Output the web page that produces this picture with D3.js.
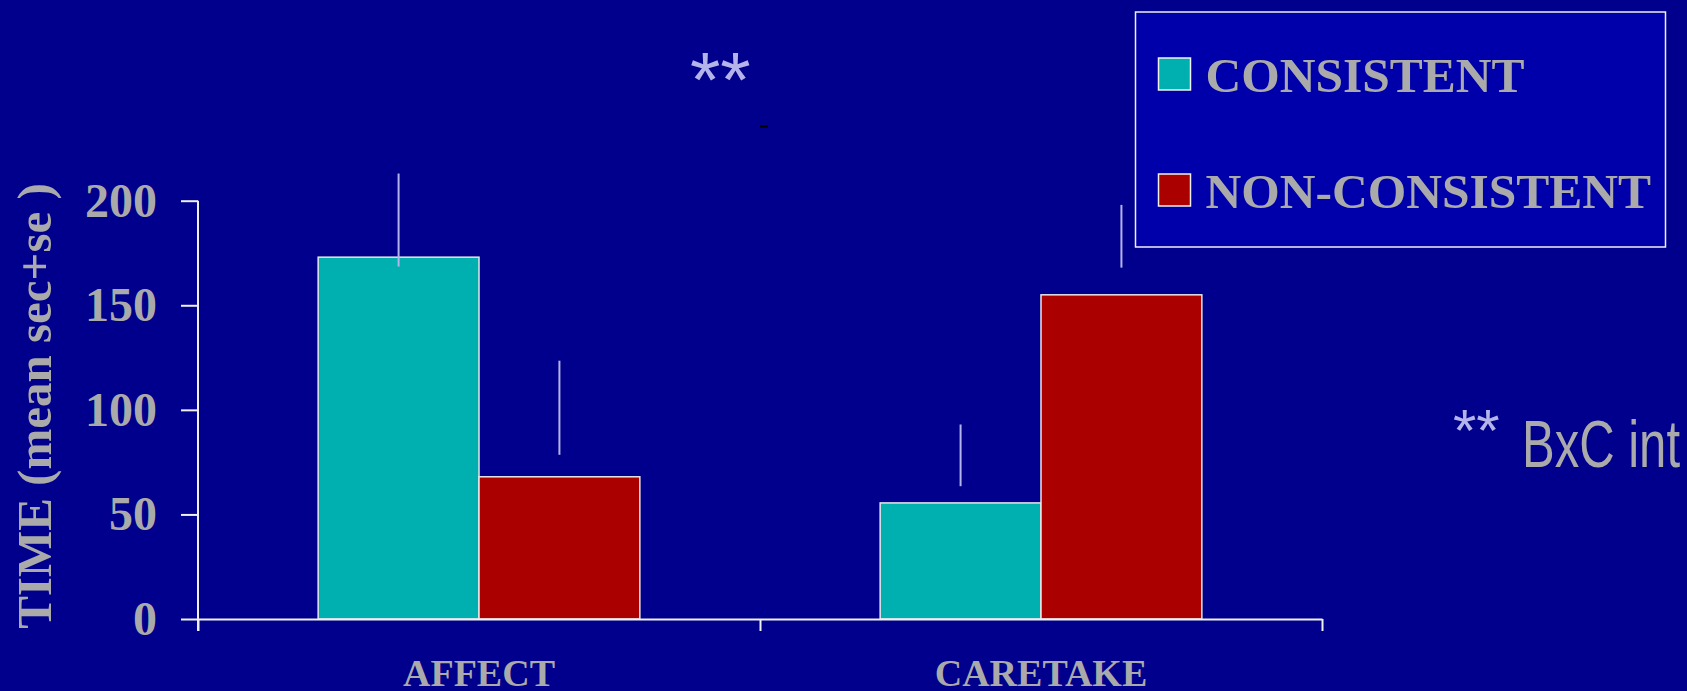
<!DOCTYPE html>
<html><head><meta charset="utf-8">
<script src="https://cdn.jsdelivr.net/npm/d3@7"></script>
<style>html,body{margin:0;padding:0;background:#00008c;overflow:hidden}</style>
</head><body>
<svg id="chart" width="1687" height="691"></svg>
<script>
// ---- data ----
const categories = ["AFFECT", "CARETAKE"];
const seriesNames = ["CONSISTENT", "NON-CONSISTENT"];
const consistentValues = [173, 55.5];
const nonConsistentValues = [68, 155];
const consistentErrLow = [168.5, 63.5];
const consistentErrHigh = [213, 93];
const nonConsistentErrLow = [78.5, 168];
const nonConsistentErrHigh = [123.5, 198];
const yTicks = [0, 50, 100, 150, 200];
const yTitle = "TIME (mean sec+se )";
const topStars = "**";
const noteStars = "**";
const noteText = "BxC int";

// ---- styles ----
const BG = "#00008c", LEGEND_BG = "#0000aa", TEXT = "#aaaaaa", LAV = "#b4b4ea";
const colors = {"CONSISTENT": "#00b0b0", "NON-CONSISTENT": "#aa0000"};
const SERIF = "'Liberation Serif','Times New Roman',serif";
const SANS = "'Liberation Sans Narrow','Liberation Sans',Arial,sans-serif";

const svg = d3.select("#chart");
svg.append("rect").attr("width", 1687).attr("height", 691).attr("fill", BG);

const plotL = 198, plotR = 1322, plotB = 619, plotT = 200.7;
const y = d3.scaleLinear().domain([0, 200]).range([plotB, plotT]);
const x0 = d3.scaleBand().domain(categories).range([plotL, plotR])
  .paddingInner(0.4276).paddingOuter(0.2138);
const x1 = d3.scaleBand().domain(seriesNames).range([0, x0.bandwidth()]);

const rows = [];
categories.forEach((c, i) => {
  rows.push({cat: c, s: "CONSISTENT", v: consistentValues[i], lo: consistentErrLow[i], hi: consistentErrHigh[i]});
  rows.push({cat: c, s: "NON-CONSISTENT", v: nonConsistentValues[i], lo: nonConsistentErrLow[i], hi: nonConsistentErrHigh[i]});
});

// bars
svg.append("g").selectAll("rect").data(rows).join("rect")
  .attr("x", d => x0(d.cat) + x1(d.s))
  .attr("y", d => y(d.v))
  .attr("width", x1.bandwidth())
  .attr("height", d => y(0) - y(d.v))
  .attr("fill", d => colors[d.s])
  .attr("stroke", "#e6e6e6").attr("stroke-width", 1.5);

// error bars
svg.append("g").selectAll("line").data(rows).join("line")
  .attr("x1", d => x0(d.cat) + x1(d.s) + x1.bandwidth() / 2)
  .attr("x2", d => x0(d.cat) + x1(d.s) + x1.bandwidth() / 2)
  .attr("y1", d => y(d.lo)).attr("y2", d => y(d.hi))
  .attr("stroke", LAV).attr("stroke-width", 2);

// y axis
const yAxis = svg.append("g").attr("transform", `translate(${plotL},0)`)
  .call(d3.axisLeft(y).tickValues(yTicks).tickSize(17).tickSizeOuter(0).tickPadding(24));
yAxis.select(".domain").remove();
yAxis.selectAll(".tick line").attr("stroke", "#f0f0f0").attr("stroke-width", 2);
yAxis.selectAll(".tick text").attr("fill", TEXT).attr("font-family", SERIF)
  .attr("font-weight", "bold").attr("font-size", 48);
yAxis.append("line").attr("x1", 0).attr("x2", 0).attr("y1", y(200)).attr("y2", y(0) + 12)
  .attr("stroke", "#f0f0f0").attr("stroke-width", 2);

// x axis (boundaries)
const xb = d3.scaleLinear().domain([0, categories.length]).range([plotL, plotR]);
const xAxis = svg.append("g").attr("transform", `translate(0,${plotB})`)
  .call(d3.axisBottom(xb).tickValues(d3.range(categories.length + 1)).tickSize(12).tickSizeOuter(0).tickFormat(""));
xAxis.select(".domain").attr("stroke", "#f0f0f0").attr("stroke-width", 2);
xAxis.selectAll(".tick line").attr("stroke", "#f0f0f0").attr("stroke-width", 2);

// category labels
svg.append("g").selectAll("text").data(categories).join("text")
  .attr("x", d => x0(d) + x0.bandwidth() / 2).attr("y", 686)
  .attr("text-anchor", "middle").attr("fill", TEXT).attr("font-family", SERIF)
  .attr("font-weight", "bold").attr("font-size", 38).text(d => d);

// y title
svg.append("text").attr("transform", "translate(51,406) rotate(-90)")
  .attr("text-anchor", "middle").attr("fill", TEXT).attr("font-family", SERIF)
  .attr("font-weight", "bold").attr("font-size", 49).text(yTitle);

// legend
const lg = svg.append("g");
lg.append("rect").attr("x", 1135.5).attr("y", 12).attr("width", 530).attr("height", 235)
  .attr("fill", LEGEND_BG).attr("stroke", "#f0f0f0").attr("stroke-width", 1.5);
const ly = d3.scalePoint().domain(seriesNames).range([58, 174]);
const li = lg.selectAll("g.item").data(seriesNames).join("g").attr("class", "item")
  .attr("transform", d => `translate(1158.5,${ly(d)})`);
li.append("rect").attr("width", 32).attr("height", 32).attr("fill", d => colors[d])
  .attr("stroke", "#f0f0f0").attr("stroke-width", 1.5);
li.append("text").attr("x", 47).attr("y", 33.5).attr("fill", TEXT).attr("font-family", SERIF)
  .attr("font-weight", "bold").attr("font-size", 49.5).text(d => d);

// annotations
svg.append("text").attr("x", 690).attr("y", 107).attr("fill", LAV)
  .attr("font-family", "'Liberation Sans',Arial,sans-serif").attr("font-size", 78).text(topStars);
svg.append("rect").attr("x", 760).attr("y", 125).attr("width", 8).attr("height", 2.5).attr("fill", "#000");
svg.append("text").attr("x", 1453).attr("y", 451).attr("fill", LAV)
  .attr("font-family", "'Liberation Sans',Arial,sans-serif").attr("font-size", 60).text(noteStars);
svg.append("text").attr("x", 1522).attr("y", 467).attr("fill", TEXT)
  .attr("font-family", SANS).attr("font-size", 66)
  .attr("textLength", 158).attr("lengthAdjust", "spacingAndGlyphs").text(noteText);
</script>
</body></html>
